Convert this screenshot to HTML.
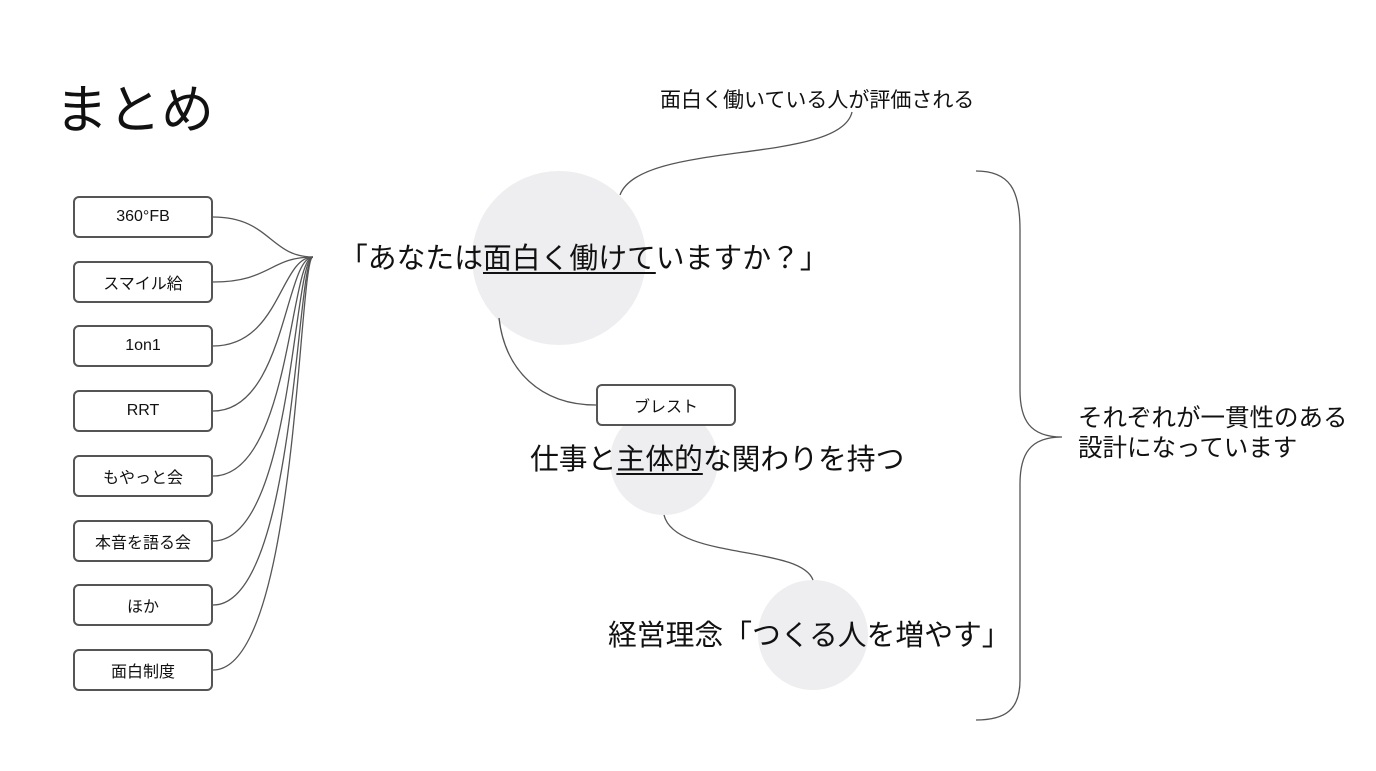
<!DOCTYPE html>
<html><head><meta charset="utf-8"><style>
body{margin:0;width:1376px;height:771px;background:#fff;overflow:hidden;font-family:"Liberation Sans","Noto Sans CJK JP",sans-serif;color:#111}
svg{position:absolute;left:0;top:0}
.t{position:absolute;white-space:nowrap;line-height:1}
.b{position:absolute;left:73px;width:136px;height:38px;border:2px solid #555;border-radius:6px;font-size:16px;display:flex;align-items:center;justify-content:center;background:#fff}
u{text-decoration:underline;text-decoration-thickness:2px;text-underline-offset:4px}
</style></head><body>
<svg width="1376" height="771">
<circle cx="559" cy="258" r="87" fill="#eeedef"/>
<circle cx="664" cy="461" r="54" fill="#eeedef"/>
<circle cx="813" cy="635" r="55" fill="#eeedef"/>
<g fill="none" stroke="#555" stroke-width="1.3">
<path d="M213,217 C270,217 270,257 313,257"/>
<path d="M213,282 C270,282 270,257 313,257"/>
<path d="M213,346 C280,346 280,257 313,257"/>
<path d="M213,411 C285,411 285,257 313,257"/>
<path d="M213,476 C290,476 290,257 313,257"/>
<path d="M213,541 C293,541 293,257 313,257"/>
<path d="M213,605 C296,605 296,257 313,257"/>
<path d="M213,670 C298,670 298,257 313,257"/>
<path d="M620,195 C640,140 840,165 852,112"/>
<path d="M499,318 C505,370 540,405 596,405"/>
<path d="M664,515 C675,560 800,545 813,580"/>
<path d="M976,171 C1010,171 1020,190 1020,230 L1020,390 C1020,420 1030,437 1062,437 C1030,437 1020,454 1020,484 L1020,680 C1020,710 1005,720 976,720"/>
</g>
</svg>
<div class="t" style="left:55px;top:84px;font-size:53px">まとめ</div>
<div class="b" style="top:196px">360°FB</div>
<div class="b" style="top:261px">スマイル給</div>
<div class="b" style="top:325px">1on1</div>
<div class="b" style="top:390px">RRT</div>
<div class="b" style="top:455px">もやっと会</div>
<div class="b" style="top:520px">本音を語る会</div>
<div class="b" style="top:584px">ほか</div>
<div class="b" style="top:649px">面白制度</div>
<div class="b" style="left:596px;top:384px;width:136px;height:38px;font-size:16px">ブレスト</div>
<div class="t" style="left:660px;top:90px;font-size:21px">面白く働いている人が評価される</div>
<div class="t" style="left:339px;top:245px;font-size:28.8px">「あなたは<u>面白く働けて</u>いますか？」</div>
<div class="t" style="left:530px;top:446px;font-size:28.8px">仕事と<u>主体的</u>な関わりを持つ</div>
<div class="t" style="left:608px;top:622px;font-size:28.8px">経営理念「つくる人を増やす」</div>
<div class="t" style="left:1078px;top:404px;font-size:24.5px;line-height:30px">それぞれが一貫性のある<br>設計になっています</div>
</body></html>
